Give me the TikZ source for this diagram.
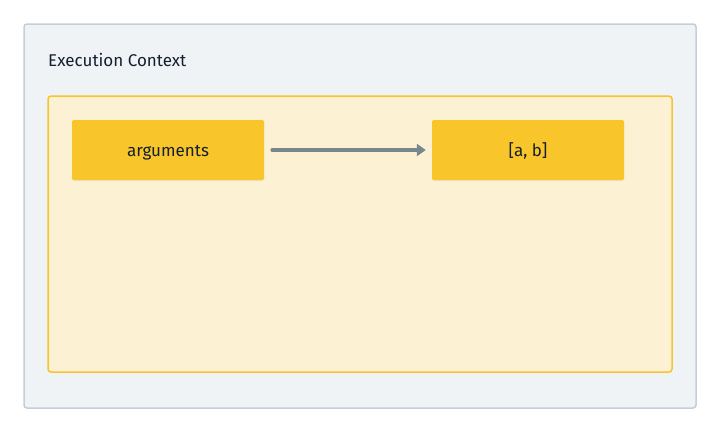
\documentclass[tikz,border=0pt]{standalone}
\usepackage{fontspec}
\setmainfont{Fira Sans}
\usetikzlibrary{arrows.meta,shadows}
\definecolor{bgout}{HTML}{F0F3F6}
\definecolor{bdout}{HTML}{C5CED6}
\definecolor{ctxfill}{HTML}{FDF1D3}
\definecolor{ctxdraw}{HTML}{F6C430}
\definecolor{boxfill}{HTML}{F8C52A}
\definecolor{txt}{HTML}{14202E}
\definecolor{arr}{HTML}{77868F}
\tikzset{
  valbox/.style={fill=boxfill, rounded corners=2pt, minimum width=192pt, minimum height=60pt, inner sep=0pt,
    text height=14pt, text depth=2pt,
    text=txt, font=\fontsize{17}{20}\selectfont, drop shadow={shadow xshift=0pt, shadow yshift=-1pt, opacity=0.12}},
  conn/.style={draw=arr, line width=3.5pt, line cap=round, -{Triangle[length=9pt,width=12pt]}}
}
\begin{document}
\begin{tikzpicture}[x=1pt,y=-1pt]
\useasboundingbox (0,0) rectangle (720,432);
\fill[white] (0,0) rectangle (720,432);
\draw[fill=bgout, draw=bdout, line width=1.5pt, rounded corners=3pt] (24,24) rectangle (696,408);
\node[anchor=west, text=txt, font=\fontsize{17}{20}\selectfont, inner sep=0pt] (title) at (48,60) {Execution Context};
\draw[fill=ctxfill, draw=ctxdraw, line width=1.5pt, rounded corners=3pt] (48,96) rectangle (672,372);
\node[valbox] (args) at (168,150) {arguments};
\node[valbox] (ab) at (528,150) {[a, b]};
\draw[conn] ([xshift=8pt]args.east) -- ([xshift=-6pt]ab.west);
\end{tikzpicture}
\end{document}
